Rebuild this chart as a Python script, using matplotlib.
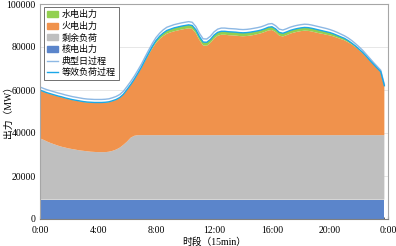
import matplotlib
matplotlib.use("Agg")
import matplotlib.pyplot as plt
from matplotlib.patches import Patch
from matplotlib.lines import Line2D

plt.rcParams['font.family'] = ['Liberation Serif', 'Noto Sans CJK SC']

# 96 points, 15 min each
slots = list(range(96))
tick_pos = [0, 16, 32, 48, 64, 80, 96]
tick_labels = ['0:00', '4:00', '8:00', '12:00', '16:00', '20:00', '0:00']

nuclear = [9000] * 96

residual = [28500, 27800, 27000, 26300, 25700, 25100, 24600, 24200,
            23800, 23500, 23200, 22900, 22700, 22500, 22300, 22200,
            22100, 22100, 22100, 22300, 22700, 23300, 24200, 25500,
            27000, 28800, 29700, 30000, 30000, 30000, 30000, 30000,
            30000, 30000, 30000, 30000, 30000, 30000, 30000, 30000,
            30000, 30000, 30000, 30000, 30000, 30000, 30000, 30000,
            30000, 30000, 30000, 30000, 30000, 30000, 30000, 30000,
            30000, 30000, 30000, 30000, 30000, 30000, 30000, 30000,
            30000, 30000, 30000, 30000, 30000, 30000, 30000, 30000,
            30000, 30000, 30000, 30000, 30000, 30000, 30000, 30000,
            30000, 30000, 30000, 30000, 30000, 30000, 30000, 30000,
            30000, 30000, 30000, 30000, 30000, 30000, 30000, 30000]

thermal = [22300, 22300, 22500, 22700, 22800, 22900, 23000, 22900,
           22900, 22800, 22800, 22800, 22700, 22700, 22800, 22800,
           22900, 22900, 23000, 23000, 23100, 23100, 23100, 23300,
           24000, 24500, 26000, 28500, 31300, 34500, 37500, 40400,
           42900, 44700, 46100, 47200, 47800, 48300, 48700, 49100,
           49400, 49700, 49400, 47400, 44200, 41700, 41600, 42900,
           44900, 46200, 46700, 46700, 46500, 46400, 46300, 46100,
           46000, 46100, 46300, 46600, 47000, 47400, 48000, 48700,
           48900, 47900, 46300, 45900, 46500, 47200, 47700, 48100,
           48400, 48600, 48500, 48200, 47800, 47400, 47100, 46700,
           46400, 45900, 45300, 44700, 44100, 43200, 42200, 41000,
           39600, 38200, 36400, 34600, 32800, 31000, 29300, 22800]

hydro = [200, 200, 200, 200, 200, 200, 200, 200,
         200, 200, 200, 200, 200, 200, 200, 200,
         200, 200, 200, 200, 200, 200, 200, 200,
         200, 200, 300, 300, 400, 500, 700, 900,
         1100, 1300, 1400, 1500, 1500, 1600, 1600, 1600,
         1600, 1600, 1600, 1600, 1600, 1600, 1600, 1600,
         1600, 1600, 1600, 1600, 1600, 1600, 1600, 1600,
         1600, 1600, 1600, 1600, 1500, 1500, 1500, 1500,
         1500, 1500, 1500, 1500, 1500, 1500, 1500, 1500,
         1500, 1500, 1500, 1500, 1500, 1500, 1400, 1400,
         1300, 1200, 1100, 1000, 900, 800, 600, 500,
         400, 300, 300, 200, 200, 200, 200, 200]

# 等效负荷过程
equiv_load = [60000, 59300, 58700, 58200, 57700, 57200, 56800, 56300,
              55900, 55500, 55200, 54900, 54600, 54400, 54300, 54200,
              54200, 54200, 54300, 54500, 55000, 55600, 56500, 58000,
              60200, 62500, 65000, 67800, 70700, 74000, 77200, 80300,
              83000, 85000, 86500, 87700, 88300, 88900, 89300, 89700,
              90000, 90300, 90000, 88000, 84800, 82300, 82200, 83500,
              85500, 86800, 87300, 87300, 87100, 87000, 86900, 86700,
              86600, 86700, 86900, 87200, 87500, 87900, 88500, 89200,
              89400, 88400, 86800, 86400, 87000, 87700, 88200, 88600,
              88900, 89100, 89000, 88700, 88300, 87900, 87500, 87100,
              86700, 86100, 85400, 84700, 84000, 83000, 81800, 80500,
              79000, 77500, 75700, 73800, 72000, 70200, 68500, 62000]

# 典型日过程
typical_load = [61400, 60700, 60100, 59600, 59100, 58600, 58200, 57700,
                57300, 56900, 56600, 56300, 56000, 55800, 55700, 55600,
                55600, 55600, 55700, 55900, 56400, 57000, 57900, 59400,
                61600, 63900, 66400, 69200, 72100, 75400, 78600, 81700,
                84400, 86400, 88000, 89200, 89800, 90400, 90800, 91200,
                91500, 91800, 91500, 89500, 86300, 83800, 83700, 85000,
                87000, 88300, 88800, 88800, 88600, 88500, 88400, 88200,
                88100, 88200, 88400, 88700, 89000, 89400, 90000, 90700,
                90900, 89900, 88300, 87900, 88500, 89200, 89700, 90100,
                90400, 90600, 90500, 90200, 89800, 89400, 89000, 88600,
                88100, 87500, 86800, 86000, 85200, 84200, 83000, 81600,
                80100, 78500, 76600, 74700, 72800, 71000, 69200, 62500]

c_hydro = '#92D050'
c_thermal = '#F0924C'
c_resid = '#BFBFBF'
c_nuc = '#5B85CB'
c_typ = '#8DB8E4'
c_eq = '#1AA7E8'

fig = plt.figure(figsize=(3.96, 2.46), dpi=100)
ax = fig.add_axes([40 / 396, 27 / 246, 348 / 396, 215 / 246])

ax.stackplot(slots, nuclear, residual, thermal, hydro,
             colors=[c_nuc, c_resid, c_thermal, c_hydro], linewidth=0)
ax.plot(slots, typical_load, color=c_typ, lw=1.0)
ax.plot(slots, equiv_load, color=c_eq, lw=1.0)

ax.set_xlim(0, 96)
ax.set_ylim(0, 100000)
ax.set_yticks([0, 20000, 40000, 60000, 80000, 100000])
ax.yaxis.grid(True, color='#E3E3E3', lw=0.6)
ax.set_axisbelow(True)
ax.set_xticks(tick_pos)
ax.set_xticklabels(tick_labels)
ax.set_xticks(slots, minor=True)
ax.tick_params(axis='x', which='major', direction='in', length=2, color='#404040',
               labelsize=7, pad=5)
ax.tick_params(axis='x', which='minor', direction='in', length=1.5, color='#404040')
ax.tick_params(axis='y', length=0, labelsize=7, pad=3)
for sp in ax.spines.values():
    sp.set_color('#A6A6A6')
    sp.set_linewidth(0.8)
ax.spines['bottom'].set_color('#808080')

fig.text(8 / 396, 1 - 110 / 246, '出力（MW）', fontsize=7, rotation=90,
         ha='center', va='center')
ax.set_xlabel('时段（15min）', fontsize=7, labelpad=2)

handles = [Patch(color=c_hydro), Patch(color=c_thermal), Patch(color=c_resid),
           Patch(color=c_nuc), Line2D([], [], color=c_typ, lw=1),
           Line2D([], [], color=c_eq, lw=1)]
labels = ['水电出力', '火电出力', '剩余负荷', '核电出力', '典型日过程', '等效负荷过程']
leg = ax.legend(handles, labels, loc='upper left', bbox_to_anchor=(4 / 348, 1 - 3 / 215),
                fontsize=6.5, frameon=True, fancybox=False, edgecolor='#595959',
                framealpha=1, handlelength=1.2, handleheight=0.6, handletextpad=0.4,
                labelspacing=0.28, borderpad=0.35, borderaxespad=0)
leg.get_frame().set_linewidth(0.6)

fig.savefig('out.png', dpi=100)
